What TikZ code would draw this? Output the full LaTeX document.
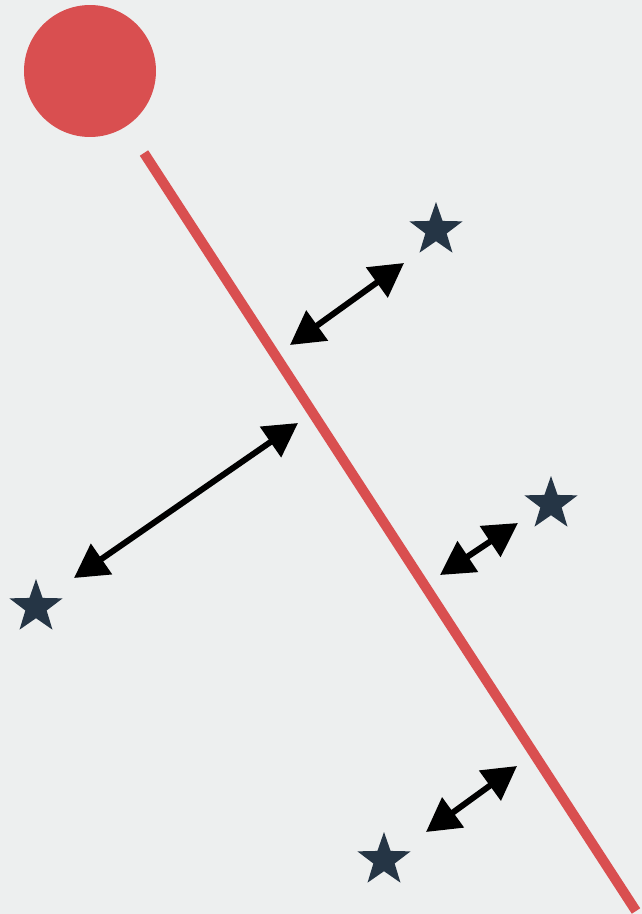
\documentclass[tikz,border=0pt]{standalone}
\usepackage{tikz}
\usetikzlibrary{arrows.meta,shapes.geometric}
\definecolor{bgGrey}{HTML}{EDEFEF}
\definecolor{fitRed}{HTML}{D94F50}
\definecolor{ptNavy}{HTML}{253545}

\begin{document}
\begin{tikzpicture}[x=0.02cm, y=-0.02cm,
     pt/.style={star, star points=5, star point ratio=2.5, minimum size=1.12cm,
                inner sep=0pt, fill=ptNavy},
     dot/.style={circle, minimum size=2.64cm, inner sep=0pt, fill=fitRed},
     fit/.style={line width=0.2cm, draw=fitRed},
     dist/.style={{Triangle[length=0.67cm,width=0.72cm]}-{Triangle[length=0.67cm,width=0.72cm]},
                  line width=0.12cm, draw=black}]
     \fill[bgGrey] (0,0) rectangle (642,914);
     \useasboundingbox (0,0) rectangle (642,914);
     % origin and fitted line
     \node[dot] (o) at (90,71) {};
     \coordinate (la) at (144,153);
     \coordinate (lb) at (636,911);
     \draw[fit] (la) -- (lb);
     % points
     \node[pt] (p1) at (436,230) {};
     \node[pt] (p2) at (36,607) {};
     \node[pt] (p3) at (551,504) {};
     \node[pt] (p4) at (384,860) {};
     % distances to the line
     \coordinate (d1a) at (404,263); \coordinate (d1b) at (290,345);
     \coordinate (d2a) at (298,423); \coordinate (d2b) at (74,578);
     \coordinate (d3a) at (518,523); \coordinate (d3b) at (440,575);
     \coordinate (d4a) at (517,766); \coordinate (d4b) at (426,832);
     \draw[dist] (d1a) -- (d1b);
     \draw[dist] (d2a) -- (d2b);
     \draw[dist] (d3a) -- (d3b);
     \draw[dist] (d4a) -- (d4b);
\end{tikzpicture}
\end{document}
